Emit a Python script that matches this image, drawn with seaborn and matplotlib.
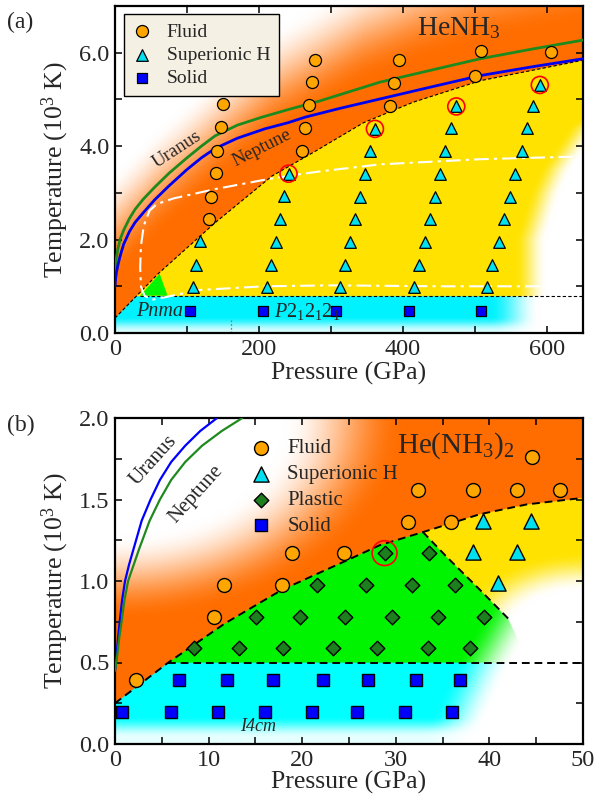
import numpy as np
import matplotlib
matplotlib.use("Agg")
import matplotlib.pyplot as plt
import seaborn as sns
from matplotlib.ticker import MultipleLocator, FormatStrFormatter

# ================= Panel (a): HeNH3 =================
fluid_a_P = [130, 134, 140, 142, 147, 150, 260, 264, 269, 274, 278, 382, 388, 394, 500, 509, 605]
fluid_a_T = [2.43, 2.92, 3.42, 3.90, 4.40, 4.90, 3.90, 4.38, 4.88, 5.37, 5.85, 4.87, 5.36, 5.84, 5.51, 6.03, 6.02]

si_a_P = [108, 112, 118,
          211, 217, 223, 229, 235, 241,
          313, 319, 327, 334, 340, 347, 354, 361,
          415, 422, 430, 437, 444, 451, 459, 466, 474,
          517, 524, 533, 540, 548, 556, 565, 572, 580, 590]
si_a_T = [0.98, 1.46, 1.96,
          0.98, 1.46, 1.95, 2.43, 2.93, 3.41,
          0.98, 1.46, 1.95, 2.43, 2.92, 3.41, 3.90, 4.37,
          0.98, 1.46, 1.95, 2.43, 2.92, 3.41, 3.90, 4.38, 4.85,
          0.98, 1.46, 1.95, 2.43, 2.92, 3.41, 3.90, 4.38, 4.85, 5.31]

solid_a_P = [104, 206, 307, 409, 509]
solid_a_T = [0.47, 0.47, 0.47, 0.47, 0.47]

ring_a_P = [241, 361, 474, 590]
ring_a_T = [3.41, 4.37, 4.85, 5.31]

# fluid / superionic boundary (dashed)
bnd_a_P = [0, 60, 139, 218, 277, 345, 414, 507, 650]
bnd_a_T = [0.32, 1.27, 2.36, 3.36, 3.88, 4.50, 4.94, 5.40, 5.84]
# superionic / solid boundary
solid_line_a_P = [35, 650]
solid_line_a_T = [0.79, 0.79]
# small plastic triangle
tri_a_P = [35, 62, 73]
tri_a_T = [0.80, 1.27, 0.80]
# Pnma / P212121 separator (dotted)
sep_a_P = [161, 161]
sep_a_T = [0.0, 0.32]
# white dash-dot contour
wdd_a_P = [590, 450, 300, 208, 116, 74, 51, 41, 36, 35, 36, 40, 48, 58, 81, 139, 211, 248, 285, 368, 507, 650]
wdd_a_T = [1.00, 1.00, 1.02, 1.00, 0.92, 0.78, 0.71, 0.80, 1.00, 1.40, 1.86, 2.30, 2.62, 2.76, 2.88, 3.08, 3.29, 3.38, 3.46, 3.61, 3.72, 3.78]
# planetary profiles
uranus_a_P = [0, 0.7, 2, 4, 7, 12, 20, 28, 39, 55, 75, 100, 120, 139, 170, 204, 240, 285, 368, 440, 507, 580, 650]
uranus_a_T = [1.30, 1.45, 1.62, 1.80, 2.00, 2.20, 2.45, 2.65, 2.86, 3.12, 3.42, 3.75, 4.00, 4.22, 4.45, 4.62, 4.78, 4.97, 5.37, 5.63, 5.87, 6.08, 6.27]
neptune_a_P = [0, 0.7, 2, 4, 7, 12, 20, 28, 39, 55, 75, 100, 120, 139, 170, 208, 240, 264, 310, 368, 440, 507, 580, 650]
neptune_a_T = [1.00, 1.15, 1.30, 1.45, 1.64, 1.90, 2.17, 2.37, 2.57, 2.85, 3.15, 3.50, 3.75, 3.95, 4.17, 4.37, 4.50, 4.62, 4.80, 5.01, 5.27, 5.51, 5.70, 5.87]

# ================= Panel (b): He(NH3)2 =================
fluid_b_P = [2.2, 10.6, 11.6, 17.8, 18.9, 24.5, 31.3, 35.9, 32.4, 38.2, 42.9, 47.5, 44.6]
fluid_b_T = [0.39, 0.78, 0.975, 0.975, 1.17, 1.17, 1.36, 1.36, 1.56, 1.56, 1.56, 1.56, 1.76]

si_b_P = [39.3, 44.4, 38.2, 42.9, 40.9]
si_b_T = [1.37, 1.37, 1.18, 1.18, 0.985]

plastic_b_P = [8.4, 13.2, 18.0, 23.3, 28.0, 33.4, 37.9,
               15.1, 19.8, 24.6, 29.6, 34.5, 39.4,
               21.6, 26.8, 31.7, 36.3,
               28.8, 33.5]
plastic_b_T = [0.587] * 7 + [0.782] * 6 + [0.975] * 4 + [1.171] * 2

solid_b_P = [6.8, 12.0, 16.9, 22.2, 27.0, 32.2, 36.9,
             0.75, 5.95, 11.0, 16.0, 21.1, 25.9, 31.0, 36.0]
solid_b_T = [0.39] * 7 + [0.195] * 8

ring_b_P = [28.8]
ring_b_T = [1.171]

bnd_b_P = [0, 5.7, 11.75, 17.8, 24.9, 28.3, 32.9, 39.0, 44.0, 50.0]
bnd_b_T = [0.25, 0.50, 0.74, 0.945, 1.13, 1.22, 1.30, 1.41, 1.47, 1.51]
# plastic / superionic edge (dashed part + faded continuation)
edge_b_P = [44.3, 42.0, 39.0, 35.4, 32.9]
edge_b_T = [0.50, 0.77, 0.945, 1.15, 1.30]
solid_line_b_P = [5.7, 50]
solid_line_b_T = [0.5, 0.5]
uranus_b_P = [0, 0.08, 0.18, 0.32, 0.5, 0.75, 1.07, 1.5, 2.0, 2.85, 3.8, 4.8, 6.0, 7.5, 9.1, 10.9]
uranus_b_T = [0.45, 0.49, 0.55, 0.65, 0.75, 0.88, 1.0, 1.1, 1.2, 1.37, 1.5, 1.62, 1.73, 1.83, 1.92, 2.0]
neptune_b_P = [0, 0.1, 0.25, 0.45, 0.7, 1.0, 1.4, 2.0, 2.6, 3.7, 4.8, 6.0, 7.5, 9.3, 11.4, 13.6]
neptune_b_T = [0.45, 0.49, 0.55, 0.65, 0.75, 0.88, 1.0, 1.1, 1.2, 1.37, 1.5, 1.62, 1.73, 1.83, 1.92, 2.0]

# ================= style =================
sns.set_theme(style="ticks")
plt.rcParams["font.family"] = "serif"
plt.rcParams["font.serif"] = ["Liberation Serif", "DejaVu Serif"]
plt.rcParams["mathtext.fontset"] = "custom"
plt.rcParams["mathtext.rm"] = "Liberation Serif"
plt.rcParams["mathtext.it"] = "Liberation Serif:italic"
plt.rcParams["mathtext.bf"] = "Liberation Serif:bold"
SERIF = "Liberation Serif"

ORANGE = (1.0, 0.43, 0.0)
YELLOW = (1.0, 0.89, 0.0)
CYAN = (0.0, 0.95, 1.0)
GREEN = (0.0, 0.96, 0.0)
C_FLUID = "#FFA500"
C_SI = "#00E0F0"
C_SOLID = "#0000FF"
C_PLASTIC = "#1E7F1E"
C_GREENLINE = "#1E8A1E"


def smooth(x):
    x = np.clip(x, 0.0, 1.0)
    return x * x * (3 - 2 * x)


def blend(img, mask, color, alpha):
    a = (mask * alpha)[..., None]
    return img * (1 - a) + np.array(color)[None, None, :] * a


fig = plt.figure(figsize=(5.98, 8.0), dpi=100)
ax1 = fig.add_axes([115 / 598, 1 - 333 / 800, 468 / 598, 327 / 800])
ax2 = fig.add_axes([115 / 598, 1 - 744 / 800, 468 / 598, 326 / 800])

# ---------------- background (a) ----------------
Pg, Tg = np.meshgrid(np.linspace(0, 650, 651), np.linspace(0, 7, 701))
Tb = np.interp(Pg, bnd_a_P, bnd_a_T)
img = np.ones(Pg.shape + (3,))
dfl = (Tg - Tb) / 7
img = blend(img, Tg >= Tb, ORANGE, 1 - smooth((dfl - 0.12) / 0.33))
Ps = np.interp(Tg, [0, 2, 3, 3.5, 4.4, 5.2], [555, 555, 575, 590, 630, 700])
img = blend(img, (Tg < Tb) & (Tg >= 0.79), YELLOW, 1 - smooth((Pg - Ps) / 45))
a_so = (1 - smooth((Pg - 520) / 70)) * (0.15 + 0.85 * smooth((Tg - 0.02) / 0.33))
img = blend(img, (Tg < Tb) & (Tg < 0.79), CYAN, a_so)
ax1.imshow(img, extent=[0, 650, 0, 7], origin="lower", aspect="auto", zorder=0,
           interpolation="bilinear")
ax1.fill(tri_a_P, tri_a_T, color=GREEN, lw=0, zorder=1)

ax1.plot(bnd_a_P, bnd_a_T, color="black", lw=0.8, dashes=(3, 2), zorder=2)
ax1.plot(solid_line_a_P, solid_line_a_T, color="black", lw=0.8, dashes=(3, 2), zorder=2)
ax1.plot(sep_a_P, sep_a_T, color="gray", lw=0.9, dashes=(1.5, 1.5), zorder=2)
ax1.plot(wdd_a_P, wdd_a_T, color="white", lw=1.5, dashes=(7, 2.5, 1.5, 2.5), zorder=2)
sns.lineplot(x=uranus_a_P, y=uranus_a_T, sort=False, estimator=None, color=C_GREENLINE,
             lw=2, ax=ax1, zorder=3)
sns.lineplot(x=neptune_a_P, y=neptune_a_T, sort=False, estimator=None, color="#0000EE",
             lw=2, ax=ax1, zorder=3)

sns.scatterplot(x=fluid_a_P, y=fluid_a_T, marker="o", s=75, color=C_FLUID,
                edgecolor="black", linewidth=0.9, label="Fluid", ax=ax1, zorder=5)
sns.scatterplot(x=si_a_P, y=si_a_T, marker="^", s=70, color=C_SI,
                edgecolor="black", linewidth=0.9, label="Superionic H", ax=ax1, zorder=5)
sns.scatterplot(x=solid_a_P, y=solid_a_T, marker="s", s=48, color=C_SOLID,
                edgecolor="black", linewidth=0.9, label="Solid", ax=ax1, zorder=5)
ax1.scatter(ring_a_P, ring_a_T, s=150, facecolors="none", edgecolors="red", linewidths=1.2,
            zorder=6)

ax1.set_xlim(0, 650)
ax1.set_ylim(0, 7)
ax1.xaxis.set_major_locator(MultipleLocator(200))
ax1.xaxis.set_minor_locator(MultipleLocator(100))
ax1.yaxis.set_major_locator(MultipleLocator(2))
ax1.yaxis.set_minor_locator(MultipleLocator(1))
ax1.yaxis.set_major_formatter(FormatStrFormatter("%.1f"))

ax1.text(86, 3.92, "Uranus", rotation=33, rotation_mode="anchor", ha="center", va="center",
         fontsize=13.5, family=SERIF, zorder=7)
ax1.text(204, 3.97, "Neptune", rotation=27, rotation_mode="anchor", ha="center", va="center",
         fontsize=13.5, family=SERIF, zorder=7)
ax1.text(478, 6.37, "HeNH$_3$", ha="center", va="baseline", fontsize=20, family=SERIF, zorder=7)
ax1.text(62, 0.45, "Pnma", style="italic", ha="center", va="center", fontsize=14.5,
         family=SERIF, zorder=7)
ax1.text(221, 0.45, r"$\mathit{P2_12_12_1}$", ha="left", va="center", fontsize=14.5, zorder=7)

leg1 = ax1.legend(loc="upper left", bbox_to_anchor=(0.019, 0.975), borderaxespad=0,
                  prop={"family": SERIF, "size": 14}, labelspacing=0.3, borderpad=0.45,
                  handletextpad=0.75, handlelength=1.0, frameon=True, fancybox=False,
                  framealpha=1)
leg1.get_frame().set_facecolor("#F4F1E4")
leg1.get_frame().set_edgecolor("black")
leg1.get_frame().set_linewidth(1.0)

# ---------------- background (b) ----------------
Pg, Tg = np.meshgrid(np.linspace(0, 50, 601), np.linspace(0, 2, 601))
Tb = np.interp(Pg, bnd_b_P, bnd_b_T)
Pe = np.interp(Tg, edge_b_T, edge_b_P)
img = np.ones(Pg.shape + (3,))
r = np.hypot(Pg / 50, (2 - Tg) / 2)
img = blend(img, Tg >= Tb, ORANGE, smooth((r - 0.36) / 0.26))
below = (Tg < Tb) & (Tg >= 0.5)
a_pl = 1 - smooth((Pg - 36.5 - 10 * (Tg - 0.5)) / 6)
img = blend(img, below & (Pg < Pe), GREEN, a_pl)
d = np.hypot((Pg - 50) / 50, (Tg - 0.6) / 2)
img = blend(img, below & (Pg >= Pe), YELLOW, smooth((d - 0.17) / 0.12))
a_so = (1 - smooth((Pg - 34 - 8 * (Tg - 0.2)) / 6)) * (0.1 + 0.9 * smooth((Tg - 0.04) / 0.13))
img = blend(img, (Tg < Tb) & (Tg < 0.5), (0.0, 1.0, 1.0), a_so)
ax2.imshow(img, extent=[0, 50, 0, 2], origin="lower", aspect="auto", zorder=0,
           interpolation="bilinear")

ax2.plot(bnd_b_P, bnd_b_T, color="black", lw=1.4, dashes=(4, 2.5), zorder=2)
ax2.plot(edge_b_P[1:], edge_b_T[1:], color="black", lw=1.4, dashes=(4, 2.5), zorder=2)
ax2.plot(solid_line_b_P, solid_line_b_T, color="black", lw=1.4, dashes=(4, 2.5), zorder=2)
sns.lineplot(x=uranus_b_P, y=uranus_b_T, sort=False, estimator=None, color="#0000FF",
             lw=1.6, ax=ax2, zorder=3)
sns.lineplot(x=neptune_b_P, y=neptune_b_T, sort=False, estimator=None, color=C_GREENLINE,
             lw=1.6, ax=ax2, zorder=3)

sns.scatterplot(x=fluid_b_P, y=fluid_b_T, marker="o", s=100, color=C_FLUID,
                edgecolor="black", linewidth=1.0, label="Fluid", ax=ax2, zorder=5)
sns.scatterplot(x=si_b_P, y=si_b_T, marker="^", s=120, color=C_SI,
                edgecolor="black", linewidth=1.0, label="Superionic H", ax=ax2, zorder=5)
sns.scatterplot(x=plastic_b_P, y=plastic_b_T, marker="D", s=55, color=C_PLASTIC,
                edgecolor="black", linewidth=1.0, label="Plastic", ax=ax2, zorder=5)
sns.scatterplot(x=solid_b_P, y=solid_b_T, marker="s", s=78, color=C_SOLID,
                edgecolor="black", linewidth=1.0, label="Solid", ax=ax2, zorder=5)
ax2.scatter(ring_b_P, ring_b_T, s=320, facecolors="none", edgecolors="red", linewidths=1.2,
            zorder=6)

ax2.set_xlim(0, 50)
ax2.set_ylim(0, 2)
ax2.xaxis.set_major_locator(MultipleLocator(10))
ax2.xaxis.set_minor_locator(MultipleLocator(5))
ax2.yaxis.set_major_locator(MultipleLocator(0.5))
ax2.yaxis.set_minor_locator(MultipleLocator(0.25))
ax2.yaxis.set_major_formatter(FormatStrFormatter("%.1f"))

ax2.text(4.1, 1.74, "Uranus", rotation=48, rotation_mode="anchor", ha="center", va="center",
         fontsize=15, family=SERIF, zorder=7)
ax2.text(8.7, 1.53, "Neptune", rotation=48, rotation_mode="anchor", ha="center", va="center",
         fontsize=15, family=SERIF, zorder=7)
ax2.text(36.4, 1.79, "He(NH$_3$)$_2$", ha="center", va="baseline", fontsize=21, family=SERIF,
         zorder=7)
ax2.text(15.3, 0.11, "I4cm", style="italic", ha="center", va="center", fontsize=13,
         family=SERIF, zorder=7)

ax2.legend(loc="upper left", bbox_to_anchor=(0.272, 0.962), borderaxespad=0,
           prop={"family": SERIF, "size": 15}, labelspacing=0.3, borderpad=0.4,
           handletextpad=0.76, handlelength=1.0, frameon=False)

for ax, ypos in ((ax1, -0.088), (ax2, -0.082)):
    ax.tick_params(which="both", direction="in", top=True, right=True, length=5, width=1.1,
                   labelsize=17.5, pad=4, color="black")
    for lab in ax.get_xticklabels() + ax.get_yticklabels():
        lab.set_family(SERIF)
    for sp in ax.spines.values():
        sp.set_linewidth(1.6)
        sp.set_color("black")
    ax.set_xlabel("Pressure (GPa)", fontsize=18.5, family=SERIF)
    ax.set_ylabel("Temperature (10$^3$ K)", fontsize=18.5, family=SERIF)
    ax.xaxis.set_label_coords(0.5, ypos)
    ax.yaxis.set_label_coords(-0.094, 0.5)
    ax.xaxis.label.set_va("top")

fig.text(7 / 598, 1 - 12 / 800, "(a)", ha="left", va="top", fontsize=17, family=SERIF)
fig.text(7 / 598, 1 - 415 / 800, "(b)", ha="left", va="top", fontsize=17, family=SERIF)

fig.savefig("out.png", dpi=100)
